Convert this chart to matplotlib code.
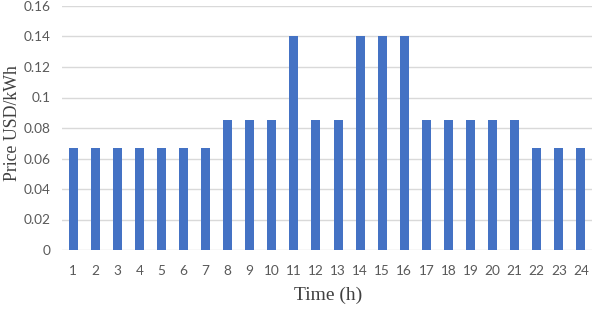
import matplotlib
matplotlib.use("Agg")
import matplotlib.pyplot as plt

hours = list(range(1, 25))
prices = [0.067]*7 + [0.085]*3 + [0.14] + [0.085]*2 + [0.14]*3 + [0.085]*5 + [0.067]*3
yticks = [0, 0.02, 0.04, 0.06, 0.08, 0.1, 0.12, 0.14, 0.16]
ytick_labels = ["0", "0.02", "0.04", "0.06", "0.08", "0.1", "0.12", "0.14", "0.16"]

fig = plt.figure(figsize=(5.94, 3.10), dpi=100)
ax = fig.add_axes([62/594, 1-250/310, (592-62)/594, (250-6)/310])
ax.bar(hours, prices, width=0.41, color="#4472C4", zorder=3)
ax.set_xlim(0.5, 24.5)
ax.set_ylim(0, 0.16)
ax.set_yticks(yticks)
ax.set_yticklabels(ytick_labels)
ax.set_xticks(hours)
ax.set_xticklabels([str(h) for h in hours])
ax.yaxis.grid(True, color="#D9D9D9", linewidth=1.0, zorder=0)
for s in ax.spines.values():
    s.set_visible(False)
ax.tick_params(length=0, labelsize=9.8, labelcolor="#595959")
ax.tick_params(axis="x", pad=11)
ax.tick_params(axis="y", pad=8)
for lab in ax.get_xticklabels() + ax.get_yticklabels():
    lab.set_family("Lato")
ax.set_ylabel("Price USD/kWh", family="Liberation Serif", fontsize=12.8, color="#404040")
ax.set_xlabel("Time (h)", family="Liberation Serif", fontsize=14, color="#404040")
ax.yaxis.set_label_coords(-0.078, 0.522)
ax.xaxis.set_label_coords(0.502, -0.152)
fig.savefig("out.png", dpi=100)
